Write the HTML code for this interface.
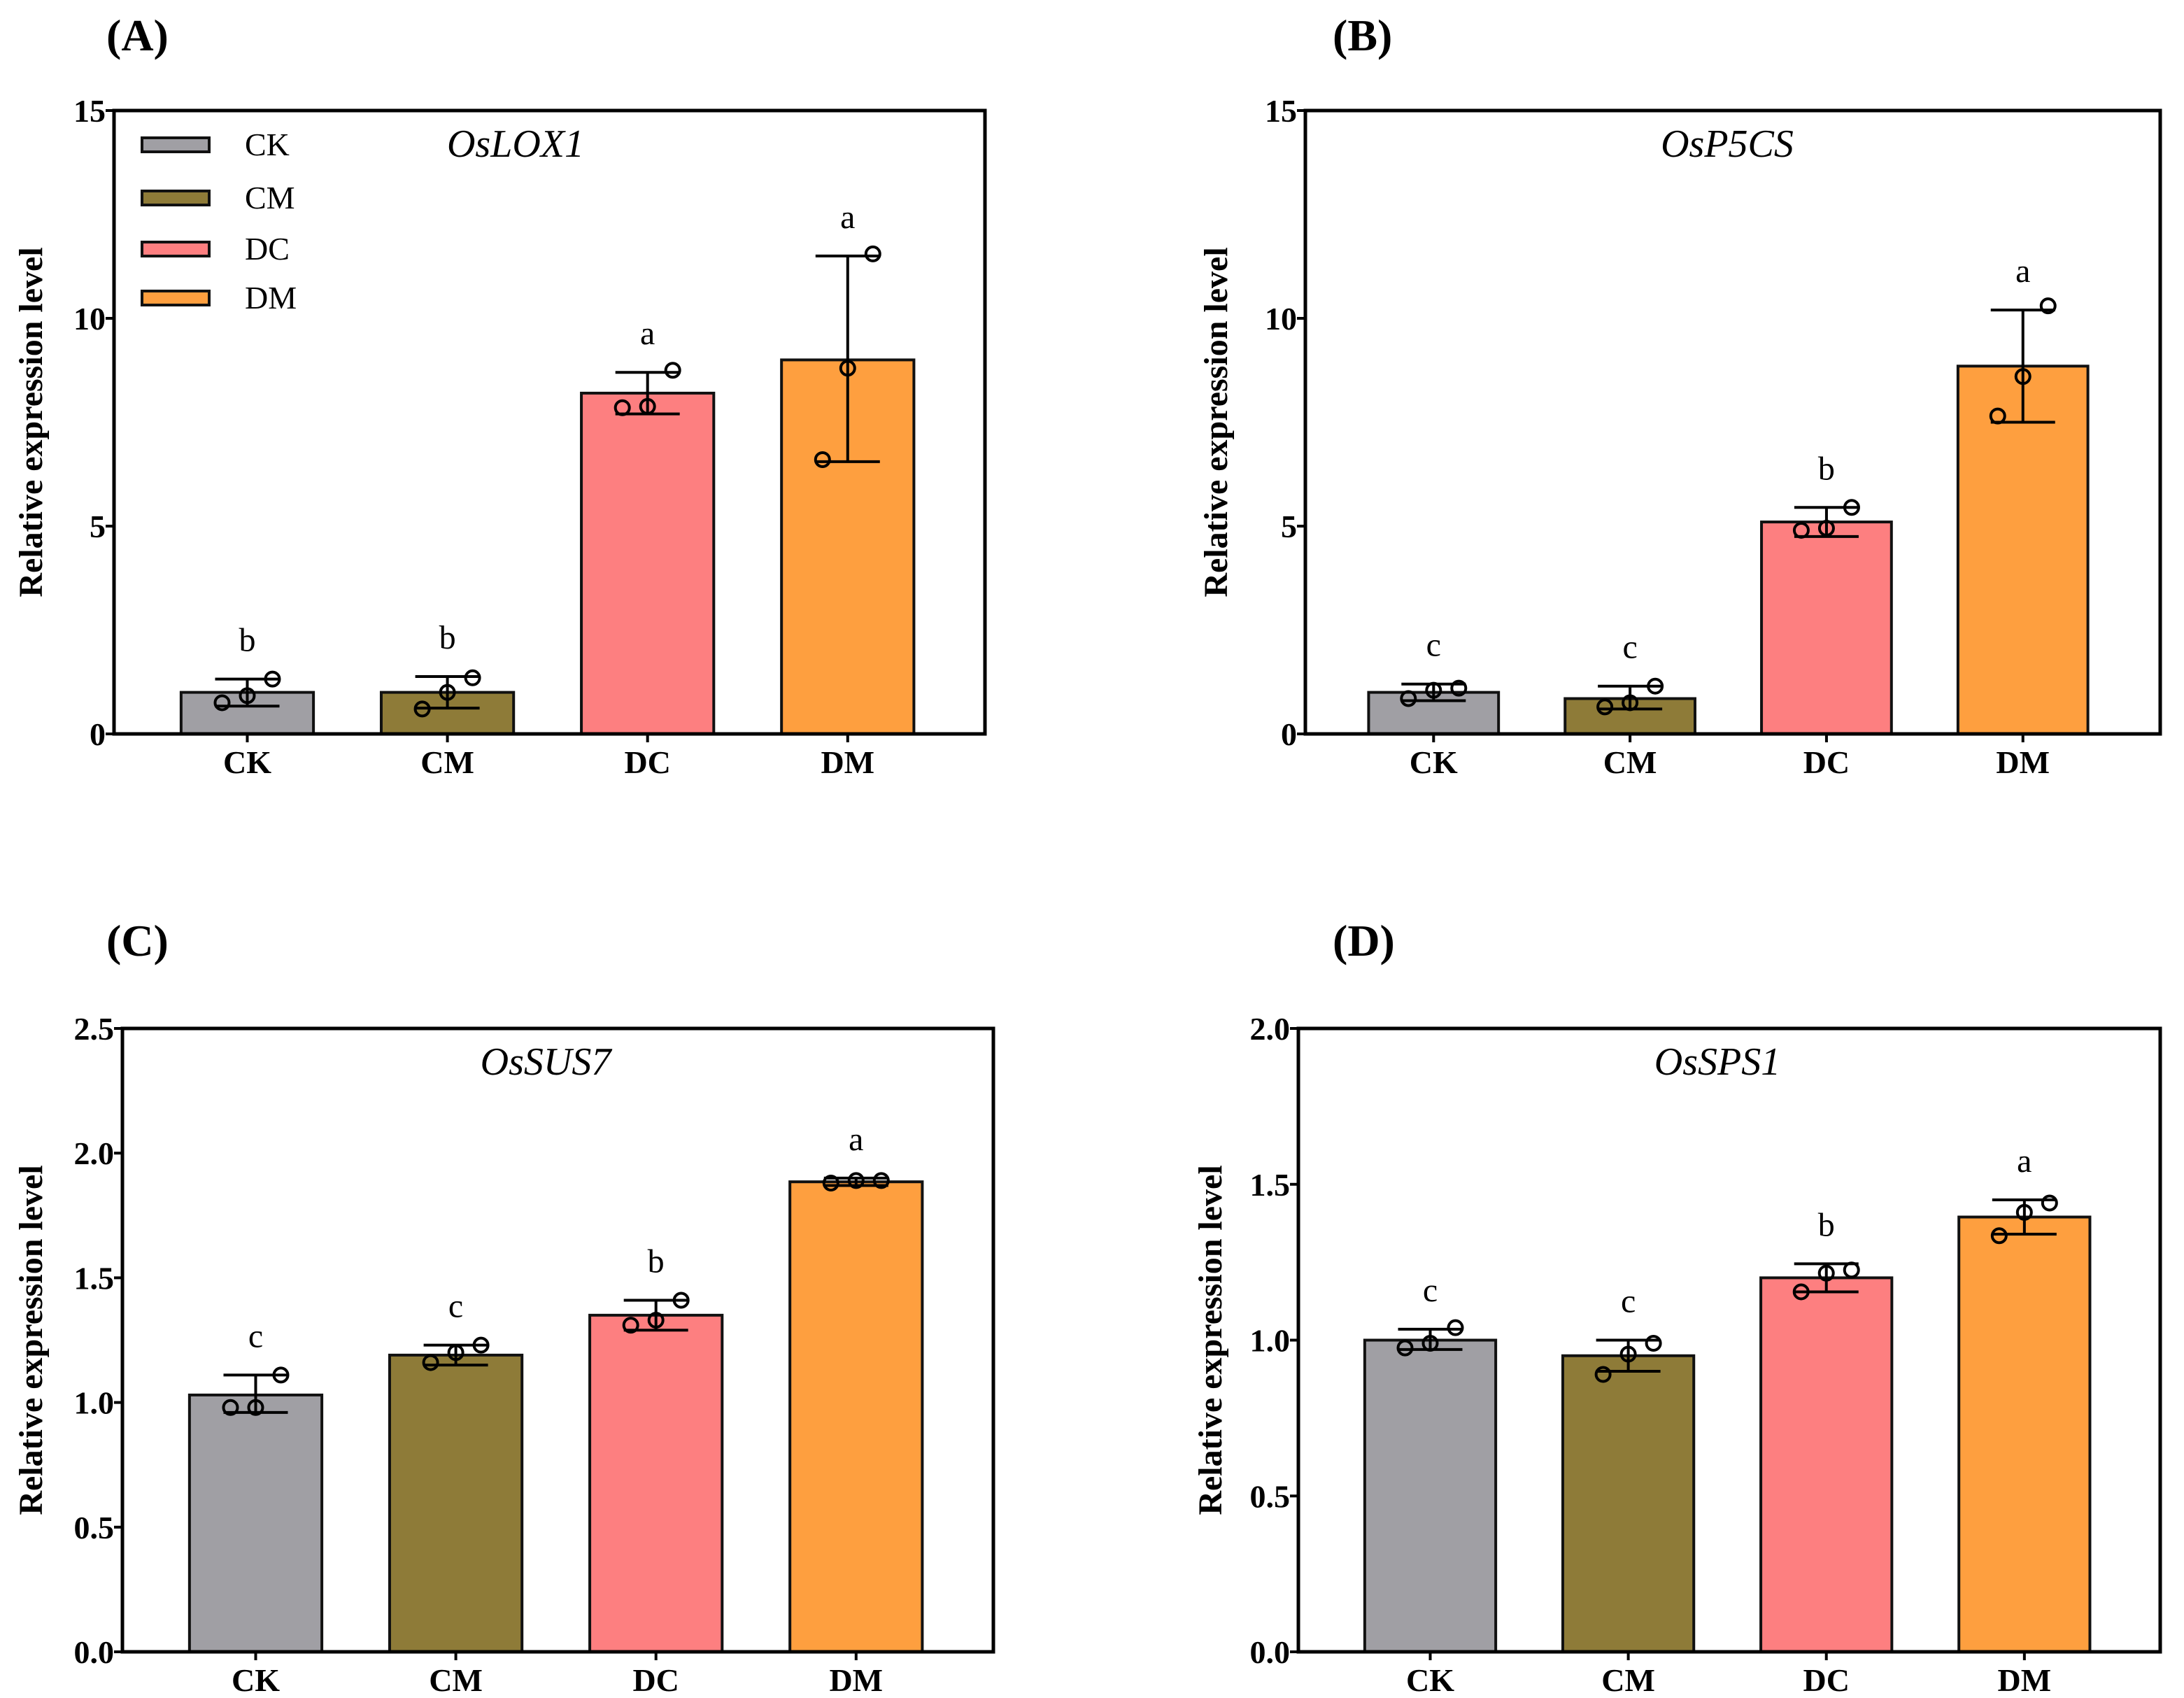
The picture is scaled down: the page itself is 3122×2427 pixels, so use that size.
<!DOCTYPE html>
<html><head><meta charset="utf-8">
<style>
html,body{margin:0;padding:0;background:#fff;}
svg{display:block;}
svg text{font-family:"Liberation Serif","DejaVu Serif",serif;fill:#000;}
</style></head>
<body>
<svg id="fig" width="3122" height="2427" viewBox="0 0 3122 2427" xmlns="http://www.w3.org/2000/svg" font-family="Liberation Serif, serif"></svg>
<script>
const categories = ["CK","CM","DC","DM"];
const colors = ["#a09fa4","#8e7b38","#fd7f80","#fe9f3f"];
// Panel A OsLOX1
const meansA = [1.0, 1.0, 8.2, 9.0];
const errLoA = [0.67, 0.62, 7.7, 6.55];
const errHiA = [1.32, 1.38, 8.7, 11.5];
const ptsA = [[0.75,0.92,1.32],[0.6,1.0,1.35],[7.85,7.88,8.75],[6.6,8.8,11.55]];
const lettersA = ["b","b","a","a"];
const ticksA = [0,5,10,15];
// Panel B OsP5CS
const meansB = [1.0, 0.85, 5.1, 8.85];
const errLoB = [0.8, 0.6, 4.75, 7.5];
const errHiB = [1.2, 1.15, 5.45, 10.2];
const ptsB = [[0.85,1.05,1.1],[0.65,0.75,1.15],[4.9,4.95,5.45],[7.65,8.6,10.3]];
const lettersB = ["c","c","b","a"];
const ticksB = [0,5,10,15];
// Panel C OsSUS7
const meansC = [1.03, 1.19, 1.35, 1.885];
const errLoC = [0.96, 1.15, 1.29, 1.87];
const errHiC = [1.11, 1.23, 1.41, 1.90];
const ptsC = [[0.98,0.98,1.11],[1.16,1.2,1.23],[1.31,1.33,1.41],[1.88,1.89,1.89]];
const lettersC = ["c","c","b","a"];
const ticksC = [0.0,0.5,1.0,1.5,2.0,2.5];
// Panel D OsSPS1
const meansD = [1.0, 0.95, 1.2, 1.395];
const errLoD = [0.97, 0.9, 1.155, 1.34];
const errHiD = [1.035, 1.0, 1.245, 1.45];
const ptsD = [[0.975,0.99,1.04],[0.89,0.955,0.99],[1.155,1.215,1.225],[1.335,1.41,1.44]];
const lettersD = ["c","c","b","a"];
const ticksD = [0.0,0.5,1.0,1.5,2.0];

const NS="http://www.w3.org/2000/svg";
const svg=document.getElementById('fig');
const FF='"Liberation Serif", serif';
function mk(tag,attrs,parent,txt){const e=document.createElementNS(NS,tag);for(const k in attrs)e.setAttribute(k,attrs[k]);if(tag==='text'){e.setAttribute('font-family',FF);e.style.fontFamily=FF;}if(txt!==undefined)e.textContent=txt;(parent||svg).appendChild(e);return e;}

function panel(cfg){
  const g=mk('g',{});
  
  
  const L=cfg.left,R=cfg.right,T=cfg.top,B=cfg.bottom;
  const ymax=cfg.ticks[cfg.ticks.length-1];
  const y=v=>B-(v/ymax)*(B-T);
  const W=R-L;
  const x=i=>L+cfg.first*W+i*0.2298*W;
  const bw=0.152*W;
  const pl=mk('text',{x:cfg.lx,y:cfg.ly,'font-size':64,'font-weight':'bold'},g,'('+cfg.id+')');
  
  
  for(let i=0;i<4;i++){
    const r=mk('rect',{x:x(i)-bw/2,y:y(cfg.means[i]),width:bw,height:B-y(cfg.means[i]),fill:colors[i],stroke:'#111','stroke-width':4},g);
    
    
  }
  for(let i=0;i<4;i++){
    const eg=mk('g',{stroke:'#000','stroke-width':4,fill:'none'},g);
    
    
    mk('line',{x1:x(i),x2:x(i),y1:y(cfg.lo[i]),y2:y(cfg.hi[i])},eg);
    mk('line',{x1:x(i)-46,x2:x(i)+46,y1:y(cfg.lo[i]),y2:y(cfg.lo[i])},eg);
    mk('line',{x1:x(i)-46,x2:x(i)+46,y1:y(cfg.hi[i]),y2:y(cfg.hi[i])},eg);
    const offs=[-36,0,36];
    cfg.pts[i].forEach((v,j)=>{
      const c=mk('circle',{cx:x(i)+offs[j],cy:y(v),r:10,fill:'none',stroke:'#000','stroke-width':4},g);
      
      
    });
    const lt=mk('text',{x:x(i),y:y(cfg.hi[i])-40,'font-size':48,'text-anchor':'middle'},g,cfg.letters[i]);
    
    
  }
  const fr=mk('rect',{x:L,y:T,width:W,height:B-T,fill:'none',stroke:'#000','stroke-width':5},g);
  
  
  cfg.ticks.forEach(t=>{
    mk('line',{x1:L-12,x2:L,y1:y(t),y2:y(t),stroke:'#000','stroke-width':4},g);
    const tl=mk('text',{x:L-12,y:y(t)+16,'font-size':46,'font-weight':'bold','text-anchor':'end'},g,cfg.fmt(t));
    
    
  });
  for(let i=0;i<4;i++){
    mk('line',{x1:x(i),x2:x(i),y1:B,y2:B+12,stroke:'#000','stroke-width':4},g);
    const xl=mk('text',{x:x(i),y:B+56,'font-size':46,'font-weight':'bold','text-anchor':'middle'},g,categories[i]);
    
    
  }
  const cy=(T+B)/2;
  const yt=mk('text',{x:cfg.ytx,y:cy,'font-size':48,'font-weight':'bold','text-anchor':'middle',transform:`rotate(-90 ${cfg.ytx} ${cy})`,dy:16},g,'Relative expression level');
  
  
  const gt=mk('text',{x:cfg.gx,y:T+66,'font-size':56,'font-style':'italic','text-anchor':'middle'},g,cfg.gene);
  
  
  return g;
}

panel({id:'A',left:163,right:1408,top:158,bottom:1049,first:0.153,means:meansA,lo:errLoA,hi:errHiA,pts:ptsA,letters:lettersA,ticks:ticksA,fmt:t=>String(t),lx:152,ly:72,ytx:44,gx:737,gene:'OsLOX1'});
panel({id:'B',left:1866,right:3088,top:158,bottom:1049,first:0.150,means:meansB,lo:errLoB,hi:errHiB,pts:ptsB,letters:lettersB,ticks:ticksB,fmt:t=>String(t),lx:1905,ly:72,ytx:1738,gx:2469,gene:'OsP5CS'});
panel({id:'C',left:175,right:1420,top:1470,bottom:2361,first:0.153,means:meansC,lo:errLoC,hi:errHiC,pts:ptsC,letters:lettersC,ticks:ticksC,fmt:t=>t.toFixed(1),lx:152,ly:1366,ytx:44,gx:780,gene:'OsSUS7'});
panel({id:'D',left:1856,right:3088,top:1470,bottom:2361,first:0.153,means:meansD,lo:errLoD,hi:errHiD,pts:ptsD,letters:lettersD,ticks:ticksD,fmt:t=>t.toFixed(1),lx:1905,ly:1366,ytx:1730,gx:2455,gene:'OsSPS1'});

const lg=mk('g',{});


const legY=[207,283,356,426];
categories.forEach((c,i)=>{
  const e=mk('g',{},lg);
  
  
  mk('rect',{x:203,y:legY[i]-10,width:96,height:20,fill:colors[i],stroke:'#111','stroke-width':4},e);
  mk('text',{x:350,y:legY[i]+15,'font-size':46},e,c);
});
</script>
</body></html>
